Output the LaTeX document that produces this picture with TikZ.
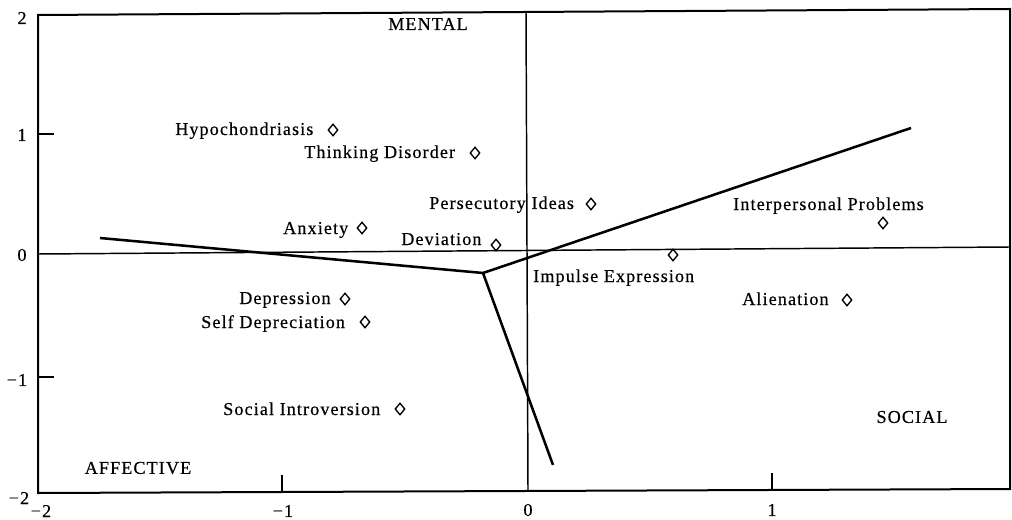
\documentclass[tikz,border=0pt]{standalone}
\usepackage{fontspec}
\setmainfont{Liberation Serif}[LetterSpace=6,FakeBold=0.4]
\usetikzlibrary{shapes.geometric}
\begin{document}
\begin{tikzpicture}[x=0.75pt,y=-0.75pt,
  lbl/.style={font=\fontsize{13.6}{16}\selectfont, inner sep=0pt, anchor=base west},
  num/.style={font=\fontsize{13.6}{16}\selectfont, inner sep=0pt, anchor=center},
  regioncap/.style={font=\fontsize{13.6}{16}\selectfont, inner sep=0pt, anchor=center},
  pt/.style={diamond, draw, line width=1pt, minimum width=7.5pt, minimum height=9pt, inner sep=0pt},
  frame/.style={line width=1.5pt},
  zero/.style={line width=1.1pt},
  tickline/.style={line width=1.1pt},
  fitline/.style={line width=1.9pt, line join=miter}]
\useasboundingbox (0,0) rectangle (1012,520);

% frame
\coordinate (TL) at (38,15);
\coordinate (TR) at (1010,9);
\coordinate (BR) at (1010,489);
\coordinate (BL) at (38,493);
\draw[frame] (TL) -- (TR) -- (BR) -- (BL) -- cycle;

% zero lines
\coordinate (H0a) at (38,254);
\coordinate (H0b) at (1010,247);
\coordinate (V0a) at (526,12);
\coordinate (V0b) at (528,491);
\draw[zero] (H0a) -- (H0b);
\draw[zero] (V0a) -- (V0b);

% ticks
\coordinate (ty1a) at (38,134); \coordinate (ty1b) at (54,134);
\coordinate (tym1a) at (38,377); \coordinate (tym1b) at (54,377);
\coordinate (txm1a) at (282,492); \coordinate (txm1b) at (282,475);
\coordinate (tx1a) at (772,490); \coordinate (tx1b) at (772,473);
\draw[tickline] (ty1a) -- (ty1b);
\draw[tickline] (tym1a) -- (tym1b);
\draw[tickline] (txm1a) -- (txm1b);
\draw[tickline] (tx1a) -- (tx1b);

% tick labels
\node[num] (ly2) at (22,18) {2};
\node[num] (ly1) at (22,135) {1};
\node[num] (ly0) at (22,255) {0};
\node[num] (lym1) at (17,380) {−1};
\node[num] (lym2) at (19,498) {−2};
\node[num] (lxm2) at (41,511) {−2};
\node[num] (lxm1) at (283,511) {−1};
\node[num] (lx0) at (528,510) {0};
\node[num] (lx1) at (772,510) {1};

% region captions
\node[regioncap] (mental) at (428,24) {MENTAL};
\node[regioncap] (social) at (912,417) {SOCIAL};
\node[regioncap] (affective) at (138,468) {AFFECTIVE};

% fitted lines
\coordinate (L1) at (100,238);
\coordinate (V) at (483,273);
\coordinate (B) at (553,465);
\coordinate (R) at (911,128);
\draw[fitline] (L1) -- (V) -- (B);
\draw[fitline] (V) -- (R);

% points
\node[pt] (hyp) at (333,130) {};
\node[pt] (thk) at (475,153) {};
\node[pt] (per) at (591,204) {};
\node[pt] (anx) at (362,228) {};
\node[pt] (dev) at (496,245) {};
\node[pt] (imp) at (673,255) {};
\node[pt] (int) at (883,223) {};
\node[pt] (ali) at (847,300) {};
\node[pt] (dep) at (345,299) {};
\node[pt] (sdp) at (365,322) {};
\node[pt] (soc) at (400,409) {};

% labels
\node[lbl] (lhyp) at (175,135) {Hypochondriasis};
\node[lbl] (lthk) at (304,158) {Thinking Disorder};
\node[lbl] (lper) at (429,209) {Persecutory Ideas};
\node[lbl] (lanx) at (283,234) {Anxiety};
\node[lbl] (ldev) at (401,245) {Deviation};
\node[lbl] (limp) at (533,282) {Impulse Expression};
\node[lbl] (lint) at (733,210) {Interpersonal Problems};
\node[lbl] (lali) at (742,305) {Alienation};
\node[lbl] (ldep) at (239,304) {Depression};
\node[lbl] (lsdp) at (201,328) {Self Depreciation};
\node[lbl] (lsoc) at (223,415) {Social Introversion};
\end{tikzpicture}
\end{document}
